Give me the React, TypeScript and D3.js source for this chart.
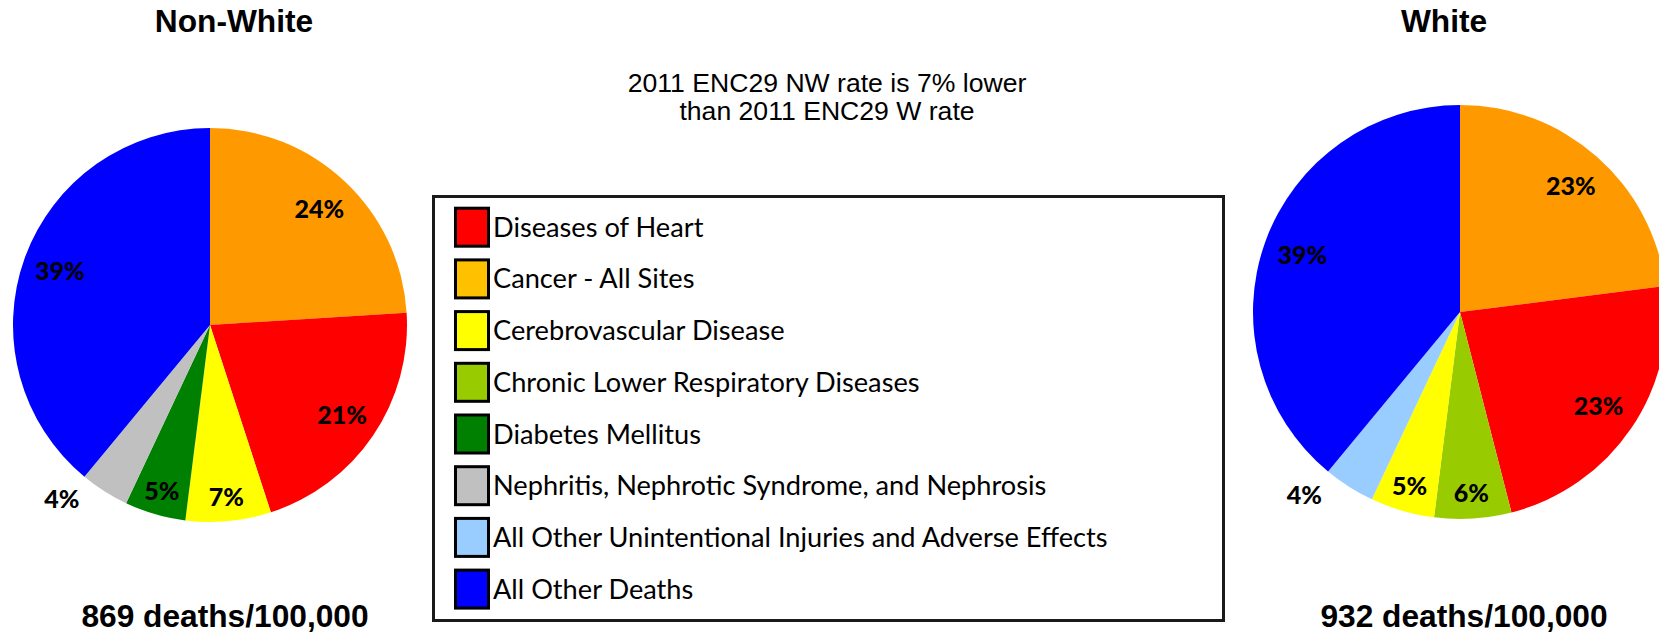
import React from "react";
import * as d3 from "d3";

const legendCategories = [
  "Diseases of Heart",
  "Cancer - All Sites",
  "Cerebrovascular Disease",
  "Chronic Lower Respiratory Diseases",
  "Diabetes Mellitus",
  "Nephritis, Nephrotic Syndrome, and Nephrosis",
  "All Other Unintentional Injuries and Adverse Effects",
  "All Other Deaths",
];
const legendColors = ["#FF0000", "#FFC000", "#FFFF00", "#99CC00", "#008000", "#C0C0C0", "#99CCFF", "#0000FF"];
const sliceColors = ["#FF0000", "#FF9900", "#FFFF00", "#99CC00", "#008000", "#C0C0C0", "#99CCFF", "#0000FF"];

const nwCategories = [
  "Cancer - All Sites",
  "Diseases of Heart",
  "Cerebrovascular Disease",
  "Diabetes Mellitus",
  "Nephritis, Nephrotic Syndrome, and Nephrosis",
  "All Other Deaths",
];
const nwValues = [24, 21, 7, 5, 4, 39];

const wCategories = [
  "Cancer - All Sites",
  "Diseases of Heart",
  "Chronic Lower Respiratory Diseases",
  "Cerebrovascular Disease",
  "All Other Unintentional Injuries and Adverse Effects",
  "All Other Deaths",
];
const wValues = [23, 23, 6, 5, 4, 39];

const titles = ["Non-White", "White"];
const totals = ["869 deaths/100,000", "932 deaths/100,000"];
const subtitleLines = ["2011 ENC29 NW rate is 7% lower", "than 2011 ENC29 W rate"];

const W = 1659;
const H = 637;

const color = d3.scaleOrdinal<string, string>().domain(legendCategories).range(sliceColors);

type PieProps = { cx: number; cy: number; r: number; cats: string[]; vals: number[] };

function Pie({ cx, cy, r, cats, vals }: PieProps) {
  const data = cats.map((c, i) => ({ c, v: vals[i] }));
  const arcs = d3
    .pie<{ c: string; v: number }>()
    .sort(null)
    .value((d) => d.v)(data);
  const arcGen = d3.arc<d3.PieArcDatum<{ c: string; v: number }>>().innerRadius(0).outerRadius(r);
  return (
    <g transform={`translate(${cx},${cy})`}>
      {arcs.map((a, i) => (
        <path key={i} d={arcGen(a) || ""} fill={color(a.data.c)} />
      ))}
      {arcs.map((a, i) => {
        const mid = (a.startAngle + a.endAngle) / 2;
        let ang = mid;
        let k = 0.81;
        if (a.data.v <= 4) {
          ang = mid + 0.14;
          k = 1.16;
        } else if (a.data.v < 8) {
          k = 0.875;
        }
        const x = Math.sin(ang) * r * k;
        const y = -Math.cos(ang) * r * k;
        return (
          <text
            key={"t" + i}
            x={x}
            y={y}
            dy="0.36em"
            textAnchor="middle"
            fontFamily="Lato, 'Open Sans', sans-serif"
            fontWeight={900}
            fontSize={25}
            fill="#000"
          >
            {a.data.v}%
          </text>
        );
      })}
    </g>
  );
}

export default function App() {
  const rowY = d3.scaleLinear().domain([0, 1]).range([206.7, 258.4]);
  return (
    <svg
      width={W}
      height={H}
      viewBox={`0 0 ${W} ${H}`}
      style={{ position: "absolute", left: 0, top: 0, background: "#fff" }}
    >
      <rect x={0} y={0} width={W} height={H} fill="#fff" />
      <g fontFamily="'Liberation Sans', Arial, sans-serif" fontWeight="bold" fontSize={31.7} fill="#000">
        <text x={234} y={32} textAnchor="middle">{titles[0]}</text>
        <text x={1444} y={32} textAnchor="middle">{titles[1]}</text>
        <text x={225} y={627} textAnchor="middle">{totals[0]}</text>
        <text x={1464} y={627} textAnchor="middle">{totals[1]}</text>
      </g>
      <g fontFamily="'Liberation Sans', Arial, sans-serif" fontSize={26.6} fill="#000">
        <text x={827} y={91.5} textAnchor="middle">{subtitleLines[0]}</text>
        <text x={827} y={120} textAnchor="middle">{subtitleLines[1]}</text>
      </g>

      <Pie cx={210} cy={325} r={197} cats={nwCategories} vals={nwValues} />
      <Pie cx={1460} cy={312} r={207} cats={wCategories} vals={wValues} />

      <rect x={433.5} y={196.5} width={790} height={424} fill="#fff" stroke="#1a1a1a" strokeWidth={3} />
      {legendCategories.map((c, i) => (
        <g key={c} transform={`translate(0,${rowY(i)})`}>
          <rect x={455.5} y={1.5} width={33} height={38} fill={legendColors[i]} stroke="#000" strokeWidth={3} />
          <text
            x={493}
            y={30}
            fontFamily="Lato, 'Open Sans', sans-serif"
            fontSize={27.2}
            fill="#000"
          >
            {c}
          </text>
        </g>
      ))}
    </svg>
  );
}
